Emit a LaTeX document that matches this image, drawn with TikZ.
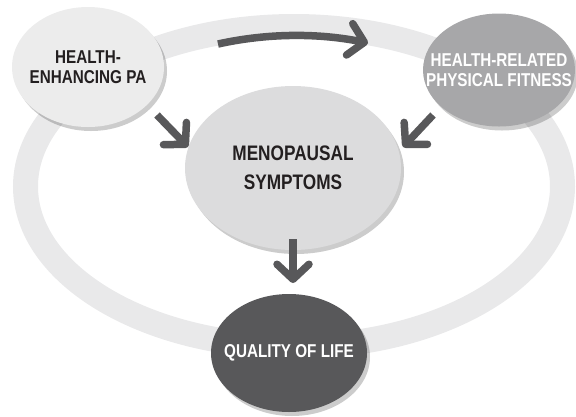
\documentclass[tikz,border=0pt]{standalone}
\usepackage{fontspec}
\setmainfont{Liberation Sans}[FakeStretch=0.82]
\usetikzlibrary{positioning,arrows.meta,shapes.geometric,shadows}
\definecolor{ringgrey}{HTML}{E9E9EA}
\definecolor{palegrey}{HTML}{ECECEC}
\definecolor{lightgrey}{HTML}{DCDCDD}
\definecolor{midgrey}{HTML}{A7A7A9}
\definecolor{darkgrey}{HTML}{58585A}
\definecolor{inkgrey}{HTML}{231F20}
\tikzset{
bubble/.style={ellipse, inner sep=0pt,
  drop shadow={shadow xshift=3pt, shadow yshift=-4pt, fill=black, opacity=.2}},
caption/.style={align=center, text=inkgrey, font=\bfseries\fontsize{18.6}{20}\selectfont},
flow/.style={draw=darkgrey, line width=7.5pt, -{Straight Barb[length=15pt, width=32pt, round]}}
}

\begin{document}
\begin{tikzpicture}[x=1pt, y=1pt]
\useasboundingbox (0,0) rectangle (576,-416);
% ring behind the boxes
\draw[ringgrey, line width=25pt] (294,-186.5) ellipse [x radius=268.5pt, y radius=160pt];

\node[bubble, fill=palegrey, minimum width=152pt, minimum height=120pt,
  label={[caption]center:HEALTH-\\ENHANCING PA}] (pa) at (88,-67) {};
\node[bubble, fill=midgrey, minimum width=152pt, minimum height=113pt,
  label={[caption, text=white]center:HEALTH-RELATED\\PHYSICAL FITNESS}] (fit) at (499,-70) {};
\node[bubble, fill=lightgrey, minimum width=216pt, minimum height=164pt,
  label={[caption, font=\bfseries\fontsize{21}{29}\selectfont]center:MENOPAUSAL\\SYMPTOMS}] (ms) at (293,-168) {};
\node[bubble, fill=darkgrey, minimum width=156pt, minimum height=118pt,
  label={[caption, text=white]center:QUALITY OF LIFE}] (qol) at (289,-353) {};

% arrow ends
\foreach \name/\x/\y in {pa-top/218/-44, fit-top/368/-43, pa-in/157/-115, pa-out/188/-147,
  fit-in/433/-115, fit-out/403/-147, ms-in/293/-239, ms-out/293/-283}
  \coordinate (\name) at (\x,\y);

\draw[flow] (pa-top) .. controls (268,-33) and (318,-33) .. (fit-top);
\draw[flow] (pa-in) -- (pa-out);
\draw[flow] (fit-in) -- (fit-out);
\draw[flow] (ms-in) -- (ms-out);
\end{tikzpicture}
\end{document}
